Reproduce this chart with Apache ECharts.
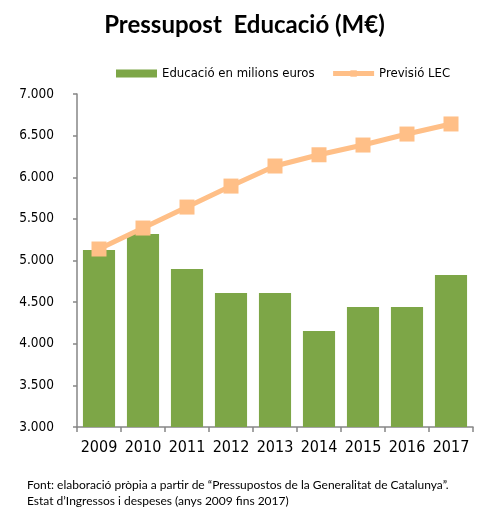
<!DOCTYPE html>
<html>
<head>
<meta charset="utf-8">
<script src="https://cdn.jsdelivr.net/npm/echarts@6/dist/echarts.min.js"></script>
<style>
  html, body { margin: 0; padding: 0; background: #fff; }
  #chart { width: 489px; height: 530px; }
</style>
</head>
<body>
<div id="chart"></div>
<script>
// data
var years = ['2009', '2010', '2011', '2012', '2013', '2014', '2015', '2016', '2017'];
var educacio = [5125, 5318, 4898, 4610, 4610, 4153, 4441, 4441, 4826];
var previsioLEC = [5138, 5390, 5642, 5894, 6135, 6270, 6387, 6519, 6640];
var yTicks = [3000, 7000, 500]; // min, max, interval

var green = '#7DA647';
var peach = '#FFBF87';
var axisGray = '#868686';

var chart = echarts.init(document.getElementById('chart'));

var option = {
  animation: false,
  title: [
    {
      text: 'Pressupost  Educació (M€)',
      left: 'center',
      top: 8,
      textStyle: { fontFamily: 'Lato', fontWeight: 'bold', fontSize: 24, color: '#000' }
    },
    {
      text: 'Font: elaboració pròpia a partir de “Pressupostos de la Generalitat de Catalunya”.\nEstat d’Ingressos i despeses (anys 2009 fins 2017)',
      left: 22,
      top: 472,
      textStyle: { fontFamily: 'Lato', fontWeight: 'normal', fontSize: 12, color: '#000', lineHeight: 16 }
    }
  ],
  legend: {
    left: 111,
    top: 62,
    itemWidth: 41,
    itemHeight: 8,
    itemGap: 16,
    textStyle: { fontFamily: 'DejaVu Sans Condensed', fontSize: 13, color: '#000' },
    data: [
      { name: 'Educació en milions euros', icon: 'rect' },
      { name: 'Previsió LEC', lineStyle: { width: 5 } }
    ]
  },
  grid: {
    left: 77,
    right: 16,
    top: 94,
    bottom: 103,
    containLabel: false
  },
  xAxis: {
    type: 'category',
    data: years,
    boundaryGap: true,
    axisLine: { lineStyle: { color: axisGray, width: 1.5 } },
    axisTick: { show: true, interval: 0, length: 5, lineStyle: { color: axisGray, width: 1.5 } },
    axisLabel: { fontFamily: 'DejaVu Sans Condensed', fontSize: 16, color: '#000', margin: 13, interval: 0 }
  },
  yAxis: {
    type: 'value',
    min: yTicks[0],
    max: yTicks[1],
    interval: yTicks[2],
    axisLine: { show: true, lineStyle: { color: axisGray, width: 1.5 } },
    axisTick: { show: true, length: 4, lineStyle: { color: axisGray, width: 1.5 } },
    splitLine: { show: false },
    axisLabel: {
      fontFamily: 'DejaVu Sans Condensed',
      fontSize: 13.5,
      color: '#000',
      margin: 23,
      formatter: function (v) { return (v / 1000).toFixed(3); }
    }
  },
  series: [
    {
      name: 'Educació en milions euros',
      type: 'bar',
      data: educacio,
      barCategoryGap: '27%',
      itemStyle: { color: green }
    },
    {
      name: 'Previsió LEC',
      type: 'line',
      data: previsioLEC,
      symbol: 'rect',
      symbolSize: 15,
      z: 5,
      lineStyle: { color: peach, width: 5 },
      itemStyle: { color: peach }
    }
  ]
};

chart.setOption(option);
</script>
</body>
</html>
